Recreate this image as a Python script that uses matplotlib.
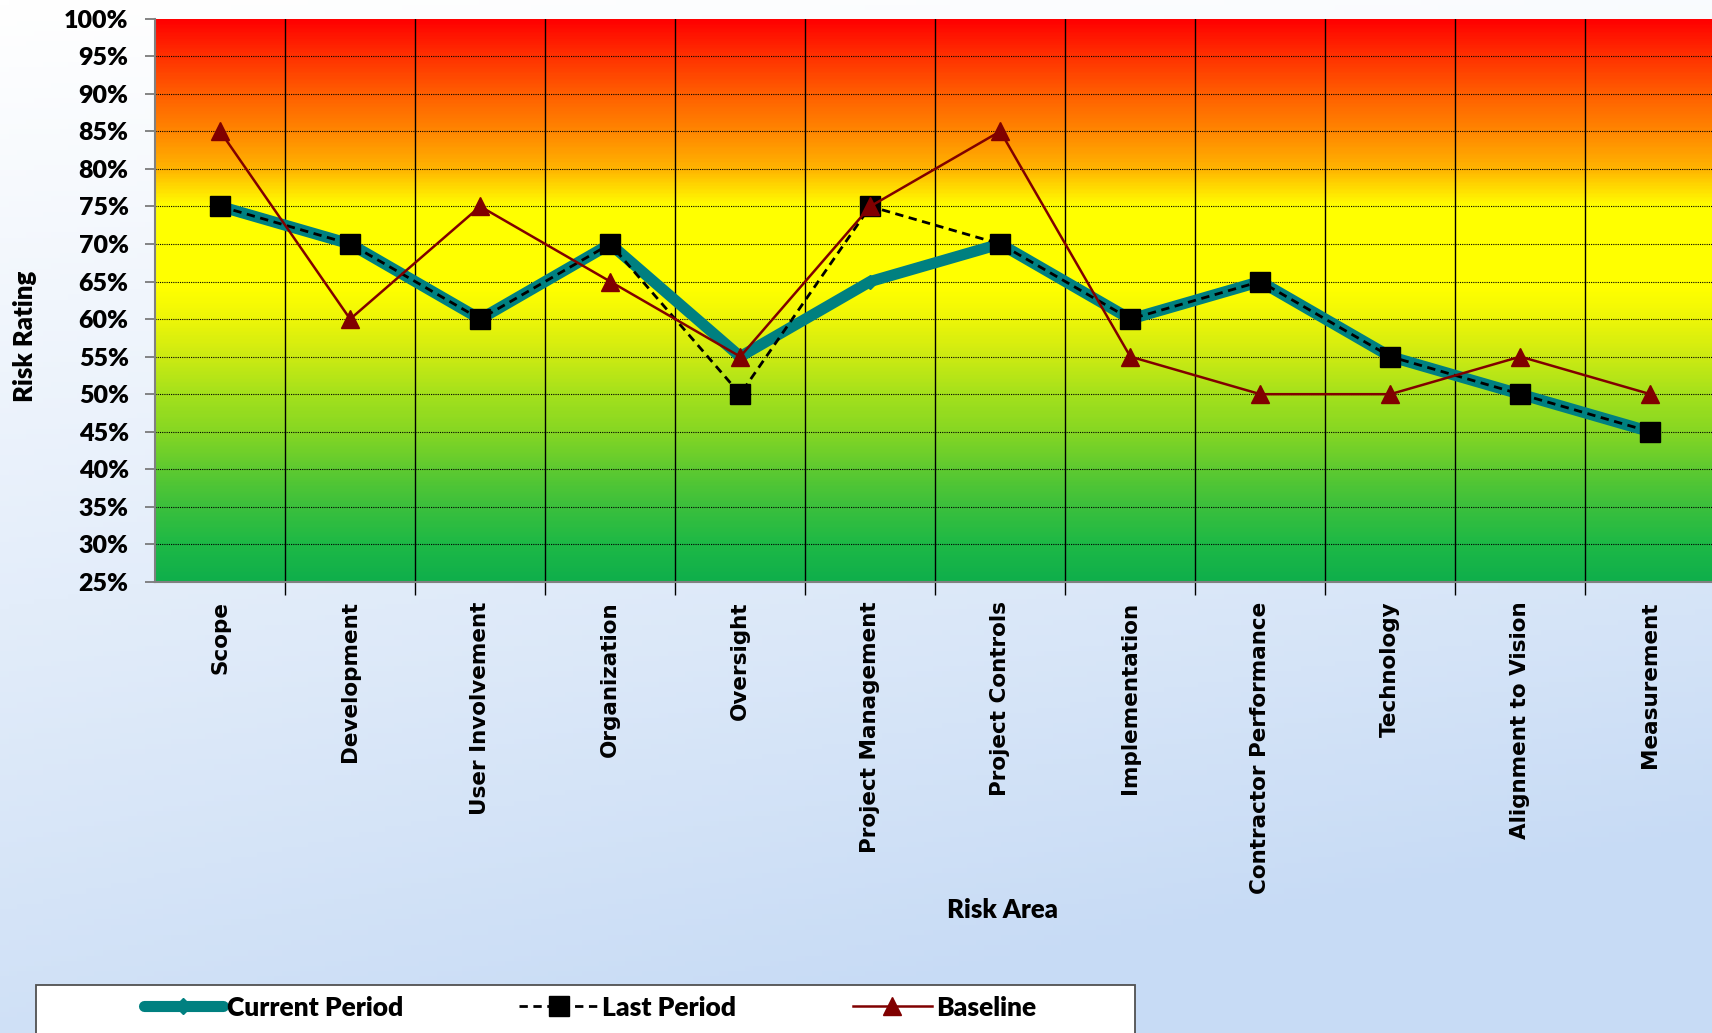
import numpy as np
import matplotlib
matplotlib.use("Agg")
import matplotlib.pyplot as plt
from matplotlib.colors import LinearSegmentedColormap
from matplotlib.lines import Line2D
from matplotlib.patches import Rectangle

# data
areas = ["Scope", "Development", "User Involvement", "Organization", "Oversight",
         "Project Management", "Project Controls", "Implementation",
         "Contractor Performance", "Technology", "Alignment to Vision", "Measurement"]
current_period = [75, 70, 60, 70, 55, 65, 70, 60, 65, 55, 50, 45]
last_period = [75, 70, 60, 70, 50, 75, 70, 60, 65, 55, 50, 45]
baseline = [85, 60, 75, 65, 55, 75, 85, 55, 50, 50, 55, 50]
y_ticks = list(range(25, 101, 5))

label_font = "Lato"
label_weight = 800

fig = plt.figure(figsize=(17.12, 10.33), dpi=100)

# figure background: white at top fading to light blue
bg = fig.add_axes([0, 0, 1, 1], zorder=-10)
yy, xx = np.mgrid[0:1:200j, 0:1:200j]
t = np.clip(0.85 * yy + 0.25 * xx * yy + 0.1 * xx, 0, 1)
top = np.array([1.0, 1.0, 1.0])
bot = np.array([199, 219, 245]) / 255
img = top[None, None, :] * (1 - t[..., None]) + bot[None, None, :] * t[..., None]
bg.imshow(img, aspect="auto", extent=[0, 1, 1, 0])
bg.set_axis_off()

ax = fig.add_axes([0.0906, 0.4366, 0.9114, 0.5454])
ax.patch.set_alpha(0)

# risk gradient in plot area
stops = [
    (0.00, (15, 175, 75)),
    (0.0667, (30, 185, 70)),
    (0.1333, (60, 192, 60)),
    (0.20, (95, 202, 48)),
    (0.2667, (135, 215, 35)),
    (0.3333, (165, 225, 28)),
    (0.40, (205, 235, 18)),
    (0.4667, (238, 246, 8)),
    (0.52, (255, 255, 0)),
    (0.6667, (255, 255, 0)),
    (0.70, (255, 220, 0)),
    (0.7333, (255, 180, 0)),
    (0.80, (255, 135, 0)),
    (0.8667, (255, 95, 0)),
    (0.9333, (255, 50, 0)),
    (1.00, (255, 0, 0)),
]
risk_cmap = LinearSegmentedColormap.from_list(
    "risk", [(p, tuple(c / 255 for c in col)) for p, col in stops])
grad = np.linspace(0, 1, 400).reshape(-1, 1)
ax.imshow(grad, cmap=risk_cmap, aspect="auto", origin="lower",
          extent=[-0.5, 11.5, 25, 100], zorder=0)

x = np.arange(len(areas))
ax.plot(x, current_period, color="#008080", lw=8, marker="D", markersize=7,
        markerfacecolor="#008080", markeredgecolor="#008080", zorder=3,
        solid_capstyle="round")
ax.plot(x, last_period, color="black", lw=2, dashes=(3, 2), marker="s",
        markersize=15, markerfacecolor="black", markeredgecolor="black", zorder=4)
ax.plot(x, baseline, color="#800000", lw=1.8, marker="^", markersize=13,
        markerfacecolor="#800000", markeredgecolor="#800000", zorder=5)

ax.set_xlim(-0.5, 11.5)
ax.set_ylim(25, 100)

# gridlines
for yv in y_ticks[1:-1]:
    ax.axhline(yv, color="black", lw=0.8, ls=(0, (1, 1)), zorder=1)
ax.set_xticks(np.arange(0.5, 11.5, 1), minor=True)
ax.grid(which="minor", axis="x", color="black", lw=1, zorder=1)
ax.tick_params(axis="x", which="minor", length=9, width=1, color="black", direction="out")

ax.set_xticks(x)
ax.set_xticklabels(areas, rotation=90, fontsize=15.5, fontweight="bold",
                   family="DejaVu Sans")
ax.tick_params(axis="x", which="major", length=0, pad=14)

ax.set_yticks(y_ticks)
ax.set_yticklabels([f"{v}%" for v in y_ticks], fontsize=18, fontweight=label_weight,
                   family=label_font)
ax.tick_params(axis="y", length=7, width=1.2, color="#707070", pad=12)

for side in ["top", "right"]:
    ax.spines[side].set_visible(False)
for side in ["left", "bottom"]:
    ax.spines[side].set_color("#808080")
    ax.spines[side].set_linewidth(1.5)

fig.text(0.5855, 0.1195, "Risk Area", ha="center", va="center", fontsize=18.5,
         fontweight=label_weight, family=label_font)
fig.text(0.0145, 0.674, "Risk Rating", ha="center", va="center", rotation=90,
         fontsize=18.5, fontweight=label_weight, family=label_font)

# legend box
fig.add_artist(Rectangle((0.021, -0.01), 0.642, 0.0565, transform=fig.transFigure,
                         facecolor="white", edgecolor="#505050", lw=1.3, zorder=5))
handles = [
    Line2D([], [], color="#008080", lw=8, marker="D", markersize=8,
           solid_capstyle="round"),
    Line2D([], [], color="black", lw=2, dashes=(3, 2), marker="s", markersize=15),
    Line2D([], [], color="#800000", lw=1.8, marker="^", markersize=13),
]
leg = fig.legend(handles, ["Current Period", "Last Period", "Baseline"],
                 loc="center", bbox_to_anchor=(0.3445, 0.0245),
                 ncol=3, frameon=False, handlelength=3.0,
                 handletextpad=0.15, columnspacing=4.4, borderaxespad=0,
                 prop={"family": label_font, "weight": label_weight, "size": 19})
leg.set_zorder(6)

fig.savefig("out.png", dpi=100)
